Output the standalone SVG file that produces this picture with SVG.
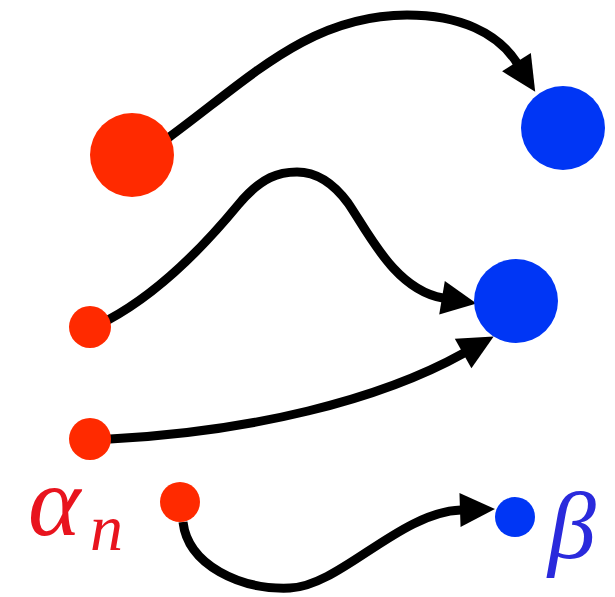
<svg xmlns="http://www.w3.org/2000/svg" width="615" height="597" viewBox="0 0 615 597">
  <style>
    .red { fill: #ff2a00; }
    .blue { fill: #0036f5; }
    .edge { fill: none; stroke: #000; stroke-width: 9; stroke-linecap: butt; marker-end: url(#arrow); }
    .lbl { font-family: "Liberation Serif", "DejaVu Serif", serif; font-style: italic; }
  </style>
  <defs>
    <marker id="arrow" markerUnits="userSpaceOnUse" markerWidth="1" markerHeight="1" refX="0" refY="0" orient="auto" overflow="visible">
      <path d="M-1,-17 L34,0 L-1,17 Z" fill="#000"/>
    </marker>
  </defs>
  <rect width="615" height="597" fill="#fff"/>
  <g id="connectors">
    <path class="edge" d="M168,138 C250,78 310,15 407,15 C460,15 498,33 517,63"/>
    <path class="edge" d="M108,320 C160,292 205,245 238,205 C262,176 280,172 297,172 C318,172 334,184 348,203 C368,232 395,290 443,298"/>
    <path class="edge" d="M110,439 C250,432 380,400 464,353"/>
    <path class="edge" d="M183,522 C188,565 240,590 290,588 C340,586 400,512 461,510"/>
  </g>
  <g id="a1"><circle class="red" cx="132" cy="155" r="42"/></g>
  <g id="a2"><circle class="red" cx="90" cy="327" r="21"/></g>
  <g id="a3"><circle class="red" cx="90" cy="439" r="21"/></g>
  <g id="a4"><circle class="red" cx="180" cy="502" r="20"/></g>
  <g id="b1"><circle class="blue" cx="563" cy="128" r="42"/></g>
  <g id="b2"><circle class="blue" cx="516" cy="301" r="42"/></g>
  <g id="b3"><circle class="blue" cx="515" cy="517" r="20"/></g>
  <g id="label-alpha">
    <text class="lbl" x="28" y="535" font-size="100" fill="#e8141e">α<tspan x="90" y="550" font-size="66">n</tspan></text>
  </g>
  <g id="label-beta">
    <text class="lbl" x="548" y="558" font-size="96" fill="#2a2adc">β</text>
  </g>
</svg>
